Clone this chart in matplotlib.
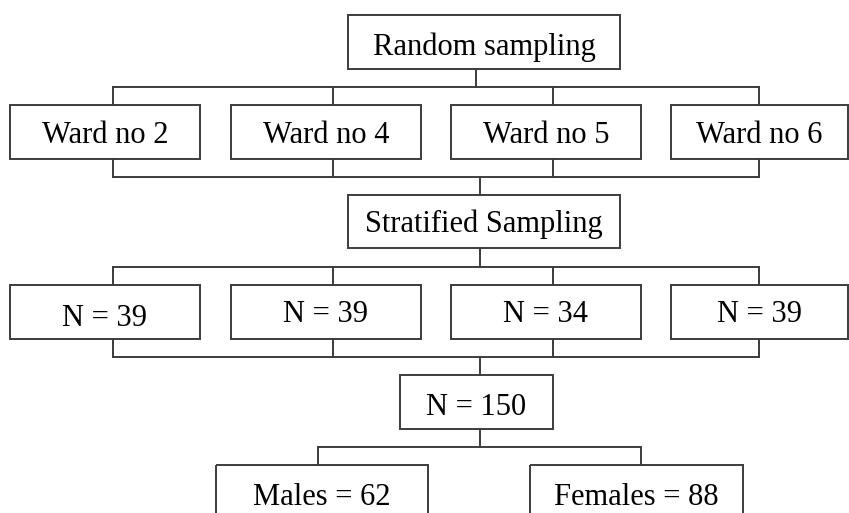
"""
Sampling flow chart: random sampling of wards, then stratified sampling.
"""
import matplotlib
matplotlib.use('agg')
from matplotlib import pyplot as plt
from matplotlib.patches import Rectangle

# Text of the chart
top_label = "Random sampling"
ward_labels = ["Ward no 2", "Ward no 4", "Ward no 5", "Ward no 6"]
middle_label = "Stratified Sampling"
ward_counts = [39, 39, 34, 39]
total_count = 150
sex_labels = ["Males", "Females"]
sex_counts = [62, 88]

FONT = {"family": "Liberation Serif", "size": 22}
LW = 1.4
EDGE = "#3c3c3c"

# Layout in pixels (x from left, y from top)
ROW_X = [(10, 200), (231, 421), (451, 641), (671, 848)]
ROW_LINK_X = [113, 333, 553, 759]
COUNT_BASELINE = [326, 322, 322, 322]
SEX_X = [(216, 428), (530, 743)]
SEX_LINK_X = [318, 641]


def box(ax, x0, x1, y0, y1, text, baseline):
    ax.add_patch(Rectangle((x0, y0), x1 - x0, y1 - y0, fill=False,
                           edgecolor=EDGE, lw=LW))
    ax.text((x0 + x1) / 2, baseline, text, ha="center", va="baseline", fontdict=FONT)


def line(ax, xs, ys):
    ax.plot(xs, ys, color=EDGE, lw=LW, solid_capstyle="projecting")


fig = plt.figure(figsize=(8.49, 5.13), dpi=100)
ax = fig.add_axes([0, 0, 1, 1])
ax.set_xlim(0, 849)
ax.set_ylim(513, 0)
ax.axis("off")

# Random sampling and wards
box(ax, 348, 620, 15, 69, top_label, 55)
line(ax, [476, 476], [69, 87])
line(ax, [ROW_LINK_X[0], ROW_LINK_X[-1]], [87, 87])
for (x0, x1), lx, label in zip(ROW_X, ROW_LINK_X, ward_labels):
    line(ax, [lx, lx], [87, 105])
    box(ax, x0, x1, 105, 159, label, 143)
    line(ax, [lx, lx], [159, 177])
line(ax, [ROW_LINK_X[0], ROW_LINK_X[-1]], [177, 177])
line(ax, [480, 480], [177, 195])

# Stratified sampling and counts per ward
box(ax, 348, 620, 195, 248, middle_label, 232)
line(ax, [480, 480], [248, 267])
line(ax, [ROW_LINK_X[0], ROW_LINK_X[-1]], [267, 267])
for (x0, x1), lx, n, by in zip(ROW_X, ROW_LINK_X, ward_counts, COUNT_BASELINE):
    line(ax, [lx, lx], [267, 285])
    box(ax, x0, x1, 285, 339, "N = %d" % n, by)
    line(ax, [lx, lx], [339, 357])
line(ax, [ROW_LINK_X[0], ROW_LINK_X[-1]], [357, 357])
line(ax, [480, 480], [357, 375])

# Total and split by sex
box(ax, 400, 553, 375, 429, "N = %d" % total_count, 415)
line(ax, [480, 480], [429, 447])
line(ax, [SEX_LINK_X[0], SEX_LINK_X[-1]], [447, 447])
for (x0, x1), lx, label, n in zip(SEX_X, SEX_LINK_X, sex_labels, sex_counts):
    line(ax, [lx, lx], [447, 465])
    box(ax, x0, x1, 465, 530, "%s = %d" % (label, n), 505)

fig.savefig("out.png", dpi=100)
